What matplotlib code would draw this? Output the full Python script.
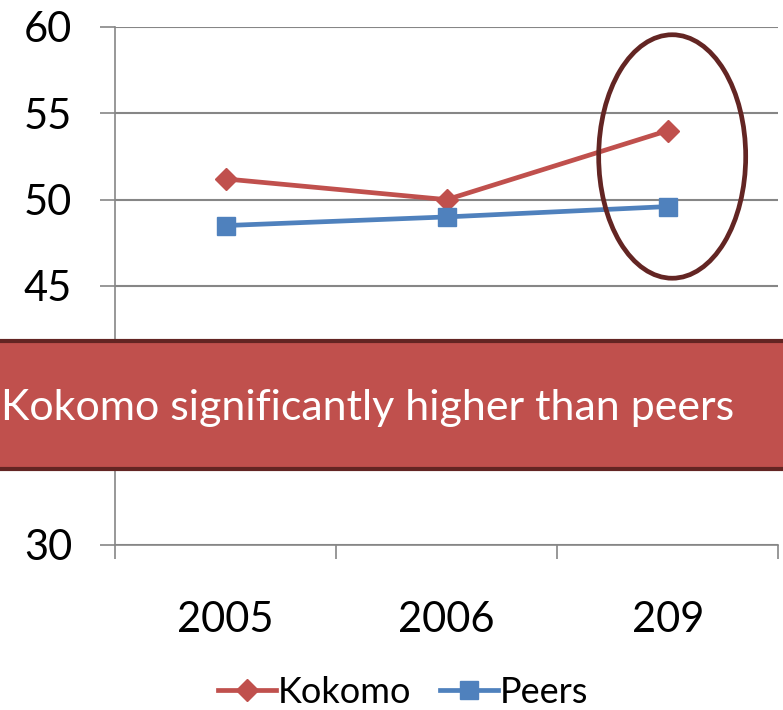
import matplotlib.pyplot as plt
from matplotlib.patches import Ellipse, Rectangle
from matplotlib.lines import Line2D

years = ['2005', '2006', '209']
kokomo = [51.2, 50.0, 54.0]
peers = [48.5, 49.0, 49.6]
y_ticks = [30, 35, 40, 45, 50, 55, 60]
banner_text = 'Kokomo significantly higher than peers'

red = '#C0504D'
blue = '#4F81BD'
dark = '#632523'
grid = '#868686'

plt.rcParams['font.family'] = ['Lato', 'DejaVu Sans']

fig = plt.figure(figsize=(7.83, 7.10), dpi=100)
ax = fig.add_axes([0.147, 0.2324, 0.847, 0.7296])

x = list(range(len(years)))
ax.plot(x, kokomo, color=red, lw=3.4, marker='D', ms=11, label='Kokomo', zorder=3)
ax.plot(x, peers, color=blue, lw=3.4, marker='s', ms=13, label='Peers', zorder=3)

ax.set_xlim(-0.5, len(years) - 0.5)
ax.set_ylim(30, 60)
ax.set_yticks(y_ticks)
ax.set_xticks(x)
ax.set_xticklabels(years)
ax.set_xticks([i - 0.5 for i in range(len(years) + 1)], minor=True)
ax.tick_params(axis='x', which='major', length=0, pad=40, labelsize=30)
ax.tick_params(axis='x', which='minor', length=10, width=1.2, color=grid)
ax.tick_params(axis='y', length=11, width=1.2, color=grid, pad=20, labelsize=30)
# 35 and 40 sit behind the banner
for lab, v in zip(ax.get_yticklabels(), y_ticks):
    if v in (35, 40):
        lab.set_visible(False)
ax.yaxis.grid(True, color=grid, lw=1.5)
ax.set_axisbelow(True)
for s in ['top', 'right']:
    ax.spines[s].set_visible(False)
for s in ['left', 'bottom']:
    ax.spines[s].set_color(grid)
    ax.spines[s].set_linewidth(1.2)

# highlight ellipse around the last point
ax.add_patch(Ellipse((2.02, 52.5), 0.665, 14.1, fill=False, ec=dark, lw=3.4,
                     zorder=4, clip_on=False))

# banner across the figure
fig.patches.append(Rectangle((-0.01, 0.339), 1.02, 0.181, transform=fig.transFigure,
                             fc=red, ec=dark, lw=3, zorder=5))
fig.text(0.001, 0.426, banner_text, color='white', fontsize=31, va='center',
         ha='left', zorder=6)

handles = [Line2D([], [], color=red, lw=3.4, marker='D', ms=11),
           Line2D([], [], color=blue, lw=3.4, marker='s', ms=13)]
fig.legend(handles, ['Kokomo', 'Peers'], loc='center', bbox_to_anchor=(0.515, 0.025),
           ncol=2, frameon=False, fontsize=26, handlelength=1.6, handletextpad=0.05,
           columnspacing=0.8)

fig.savefig('out.png', dpi=100)
